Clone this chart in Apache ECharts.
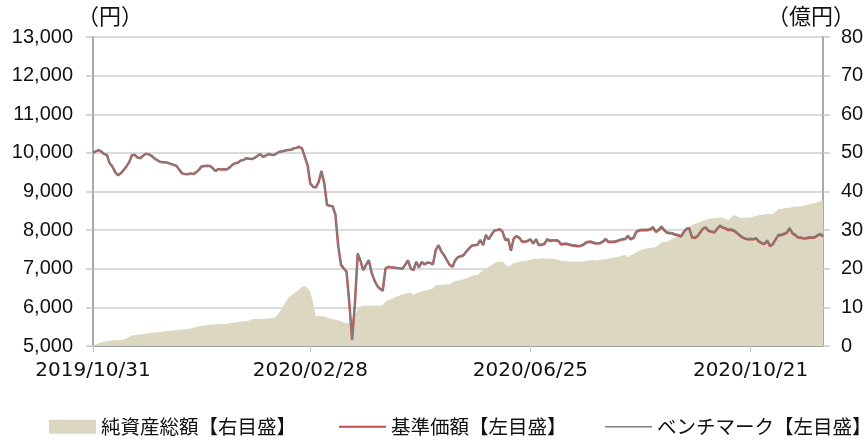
<!DOCTYPE html>
<html lang="ja">
<head>
<meta charset="UTF-8">
<title>基準価額・純資産総額の推移</title>
<script src="https://cdn.jsdelivr.net/npm/echarts@6/dist/echarts.min.js"></script>
<style>
  html, body { margin: 0; padding: 0; background: #fff; }
  #main { width: 867px; height: 441px; }
</style>
</head>
<body>
<div id="main"></div>
<script>
// 営業日（土日・休場日を除く）
var startDate = '2019-10-31';
var endDate = '2020-11-30';
var holidays = ['2019-11-04', '2019-12-31', '2020-01-01', '2020-01-02', '2020-01-03', '2020-01-13',
  '2020-02-11', '2020-02-24', '2020-03-20', '2020-04-29', '2020-05-04', '2020-05-05', '2020-05-06',
  '2020-07-23', '2020-07-24', '2020-08-10', '2020-09-21', '2020-09-22', '2020-11-03', '2020-11-23'];
var tickLabels = ['2019/10/31', '2020/02/28', '2020/06/25', '2020/10/21'];

// 基準価額（円）
var nav = [
  10000, 10040, 10070, 10030, 9970, 9945, 9730, 9640, 9495, 9420,
  9470, 9555, 9650, 9760, 9945, 9945, 9880, 9860, 9925, 9980,
  9960, 9925, 9860, 9815, 9770, 9760, 9755, 9740, 9710, 9690,
  9660, 9560, 9470, 9450, 9445, 9470, 9450, 9495, 9560, 9650,
  9660, 9665, 9660, 9600, 9530, 9580, 9570, 9575, 9570, 9620,
  9690, 9730, 9745, 9800, 9815, 9860, 9850, 9840, 9870, 9920,
  9970, 9900, 9925, 9970, 9950, 9945, 9990, 10030, 10040, 10060,
  10075, 10080, 10115, 10130, 10160, 10115, 9900, 9685, 9200, 9120,
  9105, 9250, 9530, 9210, 8650, 8630, 8620, 8400, 7600, 7100,
  7010, 6920, 6100, 5170, 6100, 7395, 7200, 6965, 7100, 7220,
  6900, 6700, 6560, 6480, 6430, 7010, 7050, 7035, 7030, 7020,
  7010, 7000, 7095, 7220, 7010, 6960, 7180, 7035, 7180, 7110,
  7160, 7150, 7110, 7480, 7610, 7450, 7350, 7220, 7100, 7050,
  7220, 7300, 7325, 7350, 7450, 7525, 7600, 7610, 7620, 7740,
  7610, 7870, 7760, 7880, 7985, 8000, 8025, 7955, 7740, 7770,
  7465, 7785, 7845, 7800, 7700, 7700, 7720, 7760, 7655, 7760,
  7610, 7620, 7640, 7760, 7720, 7730, 7730, 7720, 7630, 7640,
  7640, 7620, 7600, 7595, 7580, 7590, 7620, 7680, 7690, 7690,
  7660, 7655, 7660, 7700, 7765, 7690, 7690, 7690, 7710, 7740,
  7760, 7770, 7845, 7760, 7800, 7955, 7990, 8000, 8000, 8000,
  8020, 8070, 7955, 8000, 8085, 8000, 7930, 7920, 7910, 7880,
  7870, 7830, 7950, 8030, 8045, 7810, 7800, 7845, 7950, 8040,
  8060, 7975, 7960, 7940, 8030, 8110, 8060, 8045, 8000, 8010,
  7985, 7930, 7870, 7810, 7780, 7760, 7770, 7760, 7785, 7700,
  7660, 7640, 7725, 7585, 7640, 7760, 7870, 7870, 7900, 7930,
  8045, 7920, 7870, 7810, 7800, 7785, 7790, 7800, 7805, 7810,
  7860, 7895, 7830
];

// ベンチマーク（円）
var bench = [
  10000, 10040, 10070, 10030, 9970, 9945, 9730, 9640, 9495, 9420,
  9470, 9555, 9650, 9760, 9945, 9945, 9880, 9860, 9925, 9980,
  9960, 9925, 9860, 9815, 9770, 9760, 9755, 9740, 9710, 9690,
  9660, 9560, 9470, 9450, 9445, 9470, 9450, 9495, 9560, 9650,
  9660, 9665, 9660, 9600, 9530, 9580, 9570, 9575, 9570, 9620,
  9690, 9730, 9745, 9800, 9815, 9860, 9850, 9840, 9870, 9920,
  9970, 9900, 9925, 9970, 9950, 9945, 9990, 10030, 10040, 10060,
  10075, 10080, 10115, 10130, 10160, 10115, 9900, 9685, 9200, 9120,
  9105, 9250, 9530, 9210, 8650, 8630, 8620, 8400, 7600, 7100,
  7010, 6920, 6100, 5150, 6100, 7395, 7200, 6965, 7100, 7220,
  6900, 6700, 6560, 6480, 6430, 7010, 7050, 7035, 7030, 7020,
  7010, 7000, 7095, 7220, 7010, 6960, 7180, 7035, 7180, 7110,
  7160, 7150, 7110, 7480, 7610, 7450, 7350, 7220, 7100, 7050,
  7225, 7305, 7330, 7355, 7455, 7530, 7605, 7615, 7625, 7745,
  7620, 7880, 7770, 7890, 7995, 8010, 8035, 7965, 7750, 7780,
  7475, 7795, 7855, 7810, 7715, 7715, 7735, 7775, 7670, 7775,
  7625, 7640, 7660, 7780, 7740, 7750, 7750, 7740, 7650, 7660,
  7660, 7640, 7620, 7615, 7600, 7610, 7640, 7700, 7710, 7710,
  7680, 7675, 7680, 7720, 7785, 7710, 7710, 7710, 7730, 7760,
  7780, 7790, 7865, 7780, 7820, 7975, 8010, 8020, 8020, 8020,
  8040, 8090, 7975, 8020, 8105, 8020, 7950, 7940, 7930, 7900,
  7890, 7850, 7970, 8050, 8065, 7830, 7820, 7865, 7970, 8060,
  8080, 7995, 7980, 7960, 8050, 8130, 8080, 8065, 8020, 8030,
  8005, 7950, 7890, 7830, 7800, 7780, 7790, 7780, 7805, 7720,
  7680, 7660, 7745, 7605, 7660, 7780, 7890, 7890, 7920, 7950,
  8065, 7940, 7890, 7830, 7820, 7805, 7810, 7820, 7825, 7830,
  7880, 7915, 7850
];

// 純資産総額（億円）
var netAssets = [
  0.2, 0.4, 0.7, 1.0, 1.1, 1.2, 1.3, 1.4, 1.5, 1.5,
  1.55, 1.6, 2.0, 2.4, 2.7, 2.8, 2.9, 3.0, 3.1, 3.2,
  3.3, 3.4, 3.5, 3.5, 3.6, 3.7, 3.8, 3.9, 4.0, 4.1,
  4.1, 4.2, 4.3, 4.3, 4.4, 4.5, 4.7, 4.9, 5.1, 5.2,
  5.3, 5.4, 5.5, 5.5, 5.6, 5.6, 5.7, 5.7, 5.7, 5.9,
  6.0, 6.1, 6.3, 6.3, 6.4, 6.5, 6.6, 6.9, 7.0, 6.9,
  7.0, 7.0, 7.1, 7.1, 7.2, 7.3, 7.8, 8.8, 10.0, 11.2,
  12.3, 13.0, 13.5, 14.2, 14.6, 15.3, 15.5, 15.0, 14.1, 11.1,
  7.6, 7.8, 7.7, 7.7, 7.4, 7.2, 7.0, 6.8, 6.6, 6.5,
  6.0, 6.0, 6.0, 7.0, 8.0, 9.5, 10.2, 10.4, 10.5, 10.4,
  10.4, 10.4, 10.5, 10.5, 10.6, 11.5, 11.9, 12.2, 12.5, 12.8,
  13.1, 13.3, 13.5, 13.7, 13.8, 13.2, 13.6, 14.0, 14.2, 14.3,
  14.5, 14.7, 14.9, 15.8, 15.8, 15.8, 15.9, 16.0, 16.0, 16.4,
  16.8, 16.9, 17.1, 17.3, 17.5, 17.8, 18.1, 18.4, 18.4, 19.0,
  19.7, 20.0, 20.5, 20.9, 21.4, 21.8, 21.8, 21.8, 21.2, 20.5,
  21.0, 21.4, 21.6, 21.8, 22.0, 22.0, 22.2, 22.3, 22.5, 22.6,
  22.6, 22.7, 22.7, 22.6, 22.6, 22.6, 22.5, 22.3, 22.1, 22.1,
  22.0, 21.9, 21.8, 21.8, 21.8, 21.9, 21.9, 22.0, 22.1, 22.3,
  22.2, 22.1, 22.3, 22.4, 22.5, 22.6, 22.8, 22.9, 23.0, 23.2,
  23.4, 23.6, 23.0, 23.5, 23.8, 24.2, 24.6, 24.9, 25.1, 25.3,
  25.4, 25.5, 25.6, 26.2, 26.8, 26.9, 27.0, 27.3, 27.8, 28.2,
  28.5, 28.8, 29.4, 29.9, 30.9, 31.3, 31.6, 31.9, 32.2, 32.5,
  32.6, 32.8, 33.1, 33.0, 33.2, 33.3, 33.2, 32.9, 32.6, 33.3,
  33.9, 33.6, 33.3, 33.1, 33.2, 33.3, 33.3, 33.5, 33.7, 33.9,
  34.0, 34.1, 34.2, 34.2, 34.2, 34.8, 35.4, 35.5, 35.6, 35.7,
  35.8, 36.0, 36.1, 36.1, 36.1, 36.3, 36.5, 36.7, 36.8, 37.0,
  37.2, 37.5, 37.8
];

function pad(n) { return n < 10 ? '0' + n : '' + n; }

var dates = [];
var d = new Date(startDate + 'T00:00:00');
var last = new Date(endDate + 'T00:00:00');
while (d <= last) {
  var iso = d.getFullYear() + '-' + pad(d.getMonth() + 1) + '-' + pad(d.getDate());
  var wd = d.getDay();
  if (wd !== 0 && wd !== 6 && holidays.indexOf(iso) < 0) {
    dates.push(iso.replace(/-/g, '/'));
  }
  d.setDate(d.getDate() + 1);
}

function isTick(i, v) { return tickLabels.indexOf(v) >= 0; }

// 凡例の線アイコン（上下に極細の枠を置いて高さを14に固定）
var redLineIcon = 'path://M0,0L47,0L47,0.01L0,0.01Z M0,6L47,6L47,8L0,8Z M0,13.99L47,13.99L47,14L0,14Z';
var grayLineIcon = 'path://M0,0L47,0L47,0.01L0,0.01Z M0,6.3L47,6.3L47,7.7L0,7.7Z M0,13.99L47,13.99L47,14L0,14Z';

function legendAt(left, item) {
  return {
    left: left,
    top: 412,
    itemWidth: 47,
    itemHeight: 14,
    textStyle: { fontFamily: 'Noto Sans CJK JP', fontSize: 19.5, color: '#111' },
    data: [item]
  };
}

var chart = echarts.init(document.getElementById('main'));

var option = {
  animation: false,
  backgroundColor: '#fff',
  textStyle: { fontFamily: 'Liberation Sans' },
  grid: { left: 93, right: 44, top: 37, bottom: 95, containLabel: false },
  legend: [
    legendAt(44, { name: '純資産総額【右目盛】', icon: 'rect' }),
    legendAt(334, { name: '基準価額【左目盛】', icon: redLineIcon }),
    legendAt(600, { name: 'ベンチマーク【左目盛】', icon: grayLineIcon })
  ],
  xAxis: {
    type: 'category',
    data: dates,
    boundaryGap: false,
    axisLine: { lineStyle: { color: '#8c8c8c', width: 1.5 } },
    axisTick: { interval: isTick, length: 6, lineStyle: { color: '#c8c8c8' } },
    axisLabel: {
      interval: isTick,
      margin: 15,
      fontFamily: 'DejaVu Sans',
      fontSize: 20,
      color: '#111'
    },
    splitLine: { show: false }
  },
  yAxis: [
    {
      type: 'value',
      min: 5000,
      max: 13000,
      interval: 1000,
      name: '（円）',
      nameLocation: 'end',
      nameGap: 10,
      nameTextStyle: { fontFamily: 'Noto Sans CJK JP', fontSize: 22, color: '#111', align: 'left', padding: [0, 0, 0, -16] },
      axisLine: { show: true, lineStyle: { color: '#8c8c8c', width: 1.5 } },
      axisTick: { show: true, length: 7, lineStyle: { color: '#c8c8c8', width: 1.5 } },
      axisLabel: {
        margin: 20,
        fontSize: 20,
        color: '#111',
        formatter: function (v) { return v.toLocaleString('en-US'); }
      },
      splitLine: { show: true, lineStyle: { color: '#cfcfcf', width: 1.5 } }
    },
    {
      type: 'value',
      min: 0,
      max: 80,
      interval: 10,
      name: '（億円）',
      nameLocation: 'end',
      nameGap: 10,
      nameTextStyle: { fontFamily: 'Noto Sans CJK JP', fontSize: 22, color: '#111', align: 'left', padding: [0, 0, 0, -56] },
      axisLine: { show: true, lineStyle: { color: '#8c8c8c', width: 1.5 } },
      axisTick: { show: true, length: 7, lineStyle: { color: '#c8c8c8', width: 1.5 } },
      axisLabel: { margin: 18, fontSize: 20, color: '#111' },
      splitLine: { show: false }
    }
  ],
  series: [
    {
      name: '純資産総額【右目盛】',
      type: 'line',
      yAxisIndex: 1,
      data: netAssets,
      symbol: 'none',
      color: '#dcd7c1',
      lineStyle: { width: 0 },
      areaStyle: { color: '#dcd7c1', opacity: 1 },
      z: 1
    },
    {
      name: '基準価額【左目盛】',
      type: 'line',
      yAxisIndex: 0,
      data: nav,
      symbol: 'none',
      color: '#c0504d',
      lineStyle: { color: '#c0504d', width: 2.5 },
      z: 3
    },
    {
      name: 'ベンチマーク【左目盛】',
      type: 'line',
      yAxisIndex: 0,
      data: bench,
      symbol: 'none',
      color: '#7f7f7f',
      lineStyle: { color: '#7f7f7f', width: 1.5 },
      z: 4
    }
  ]
};

chart.setOption(option);
</script>
</body>
</html>
